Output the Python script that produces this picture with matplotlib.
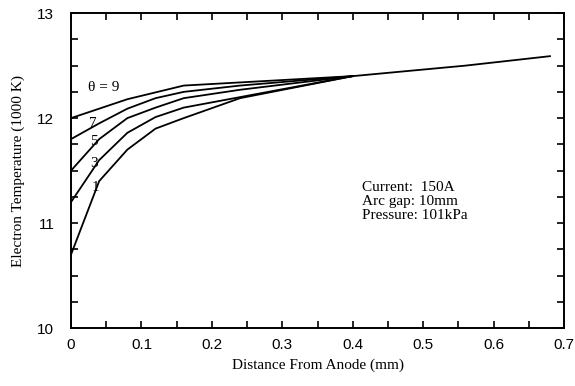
import matplotlib
matplotlib.use("Agg")
import matplotlib.pyplot as plt
from matplotlib.ticker import MultipleLocator, FuncFormatter

# distance from anode (mm) and electron temperature (1000 K), one curve per theta
x9 = [0.0, 0.08, 0.16, 0.40]
y9 = [12.0, 12.18, 12.31, 12.40]
x7 = [0.0, 0.04, 0.08, 0.12, 0.16, 0.24, 0.40]
y7 = [11.8, 11.95, 12.09, 12.19, 12.25, 12.31, 12.40]
x5 = [0.0, 0.04, 0.08, 0.12, 0.16, 0.24, 0.40]
y5 = [11.5, 11.8, 12.0, 12.1, 12.19, 12.27, 12.40]
x3 = [0.0, 0.04, 0.08, 0.12, 0.16, 0.24, 0.40]
y3 = [11.2, 11.6, 11.86, 12.01, 12.1, 12.2, 12.40]
x1 = [0.0, 0.04, 0.08, 0.12, 0.16, 0.24, 0.40]
y1 = [10.7, 11.4, 11.7, 11.9, 12.0, 12.19, 12.40]
# shared part beyond 0.4 mm
x_tail = [0.40, 0.56, 0.68]
y_tail = [12.40, 12.50, 12.59]

curves = [(x9, y9), (x7, y7), (x5, y5), (x3, y3), (x1, y1)]
labels = ["θ = 9", "7", "5", "3", "1"]
label_pos = [(0.024, 12.29), (0.026, 11.95), (0.027, 11.78), (0.027, 11.57), (0.030, 11.34)]

serif = "Liberation Serif"
sans = "Liberation Sans"

fig = plt.figure(figsize=(5.75, 3.86), dpi=100)
ax = fig.add_axes([0.1235, 0.150, 0.8575, 0.816])

for xs, ys in curves:
    ax.plot(xs, ys, color="black", lw=1.3)
ax.plot(x_tail, y_tail, color="black", lw=1.3)

for lab, (lx, ly) in zip(labels, label_pos):
    ax.text(lx, ly, lab, fontsize=11, family=serif, va="center", ha="left")

ax.text(0.413, 11.40, "Current:  150A\nArc gap: 10mm\nPressure: 101kPa",
        fontsize=11, family=serif, va="top", ha="left", linespacing=1.1)

ax.set_xlim(0, 0.7)
ax.set_ylim(10, 13)
ax.xaxis.set_major_locator(MultipleLocator(0.1))
ax.xaxis.set_minor_locator(MultipleLocator(0.05))
ax.yaxis.set_major_locator(MultipleLocator(1))
ax.yaxis.set_minor_locator(MultipleLocator(0.25))
ax.xaxis.set_major_formatter(FuncFormatter(lambda v, p: "0" if abs(v) < 1e-9 else f"{v:.1f}"))
ax.tick_params(which="both", direction="in", top=True, right=True, length=5, width=1.2)
ax.tick_params(axis="x", which="major", labelsize=11, pad=7)
ax.tick_params(axis="y", which="major", labelsize=11, pad=12)
for t in ax.get_xticklabels() + ax.get_yticklabels():
    t.set_family(sans)
for s in ax.spines.values():
    s.set_linewidth(1.4)

ax.set_xlabel("Distance From Anode (mm)", fontsize=11, family=serif, labelpad=5)
ax.set_ylabel("Electron Temperature (1000 K)", fontsize=11, family=serif, labelpad=9)

fig.savefig("out.png", dpi=100)
